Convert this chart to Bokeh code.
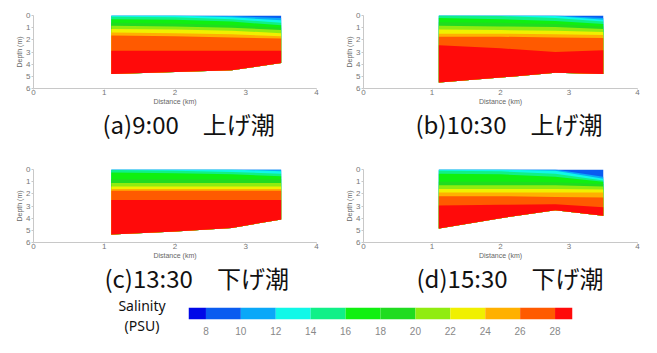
from bokeh.plotting import figure
from bokeh.layouts import column, row
from bokeh.models import Range1d, Title, FixedTicker, Div
from bokeh.embed import file_html
from bokeh.resources import INLINE

# ---------------- data ----------------
stations = [1.1, 2.0, 2.8, 3.5]                    # distance (km)
levels = [10, 12, 14, 16, 18, 20, 22, 24, 26, 28]  # isohaline levels (PSU)

# colour scale (PSU): <8, 8-10, ..., 26-28, >28
cbar_edges = [7, 8, 10, 12, 14, 16, 18, 20, 22, 24, 26, 28, 29]
cbar_colors = ["#0008e8", "#0a5cf0", "#0aa8f8", "#10f8e8", "#10f088", "#10f010",
               "#20dc20", "#90ec10", "#f0f000", "#ffb000", "#ff5a00", "#ff0a0a"]
cbar_ticks = [8, 10, 12, 14, 16, 18, 20, 22, 24, 26, 28]
cbar_title = ["Salinity", "(PSU)"]

titles = ["(a)9:00\u3000上げ潮", "(b)10:30\u3000上げ潮", "(c)13:30\u3000下げ潮", "(d)15:30\u3000下げ潮"]

# bottom depth (m) at stations
bottom_a = [4.8, 4.65, 4.5, 3.9]
bottom_b = [5.5, 5.1, 4.7, 4.8]
bottom_c = [5.35, 5.1, 4.8, 4.1]
bottom_d = [4.85, 4.0, 3.35, 3.8]

# depth (m) of each isohaline (rows = levels 10..28) at stations
iso_a = [[0.0, 0.0, 0.05, 0.2], [0.0, 0.0, 0.15, 0.4], [0.1, 0.15, 0.3, 0.6],
         [0.3, 0.35, 0.5, 0.8], [0.6, 0.65, 0.8, 1.0], [0.85, 0.9, 1.0, 1.2],
         [1.1, 1.15, 1.25, 1.45], [1.4, 1.45, 1.55, 1.7], [1.65, 1.7, 1.8, 1.9],
         [2.9, 2.9, 2.9, 2.9]]
iso_b = [[0.0, 0.0, 0.0, 0.2], [0.0, 0.0, 0.05, 0.35], [0.0, 0.05, 0.2, 0.5],
         [0.2, 0.3, 0.45, 0.7], [0.55, 0.6, 0.7, 0.9], [0.85, 0.9, 0.95, 1.1],
         [1.15, 1.2, 1.25, 1.35], [1.5, 1.5, 1.55, 1.6], [1.75, 1.75, 1.8, 1.85],
         [2.45, 2.7, 3.0, 2.85]]
iso_c = [[0.0, 0.0, 0.0, 0.0], [0.0, 0.0, 0.0, 0.15], [0.05, 0.1, 0.2, 0.35],
         [0.25, 0.3, 0.4, 0.55], [0.8, 0.8, 0.8, 0.8], [1.1, 1.1, 1.1, 1.1],
         [1.4, 1.4, 1.4, 1.4], [1.6, 1.6, 1.6, 1.6], [1.75, 1.75, 1.75, 1.75],
         [2.5, 2.5, 2.5, 2.5]]
iso_d = [[0.0, 0.0, 0.0, 0.6], [0.0, 0.0, 0.1, 0.75], [0.1, 0.15, 0.35, 0.9],
         [0.35, 0.4, 0.6, 1.0], [1.0, 1.0, 1.05, 1.2], [1.3, 1.3, 1.3, 1.4],
         [1.6, 1.6, 1.6, 1.65], [1.9, 1.9, 1.9, 1.9], [2.2, 2.2, 2.25, 2.3],
         [2.95, 2.9, 2.85, 3.1]]

FONT = "Noto Sans CJK JP"


def make_panel(title, bottom, iso, width, height, bl, br, bt, bb, toff):
    p = figure(width=width, height=height, x_range=Range1d(0, 4), y_range=Range1d(6, 0),
               output_backend="svg", toolbar_location=None,
               min_border_left=bl, min_border_right=br, min_border_top=bt, min_border_bottom=bb)
    p.outline_line_color = None
    p.grid.visible = False
    band_colors = cbar_colors[1:]
    tops = [[0.0] * len(stations)] + iso
    for k, top in enumerate(tops):
        y1 = [min(a, b) for a, b in zip(top, bottom)]
        p.varea(x=stations, y1=y1, y2=bottom, fill_color=band_colors[k])
    for ax in (p.xaxis[0], p.yaxis[0]):
        ax.axis_line_color = "#c8c8c8"
        ax.major_tick_line_color = "#c8c8c8"
        ax.major_tick_in = 0
        ax.major_tick_out = 2
        ax.minor_tick_line_color = None
        ax.major_label_text_font_size = "8px"
        ax.major_label_text_color = "#777777"
        ax.axis_label_text_font_size = "7px"
        ax.axis_label_text_color = "#666666"
        ax.axis_label_text_font_style = "normal"
        ax.major_label_standoff = 1
        ax.axis_label_standoff = 0
    p.xaxis.major_label_standoff = 0
    p.xaxis.major_tick_out = 1
    p.xaxis.ticker = FixedTicker(ticks=[0, 1, 2, 3, 4])
    p.yaxis.ticker = FixedTicker(ticks=[0, 1, 2, 3, 4, 5, 6])
    p.xaxis.axis_label = "Distance (km)"
    p.yaxis.axis_label = "Depth (m)"
    p.add_layout(Title(text=title, align="left", offset=toff, standoff=-8,
                       text_font=FONT, text_font_size="24px", text_font_style="normal",
                       text_color="#111111"), "below")
    return p


pa = make_panel(titles[0], bottom_a, iso_a, 330, 150, 33, 14, 15, 62, 69)
pb = make_panel(titles[1], bottom_b, iso_b, 311, 150, 33, 4, 15, 62, 52)
pc = make_panel(titles[2], bottom_c, iso_c, 330, 145, 33, 14, 19, 53, 71)
pd = make_panel(titles[3], bottom_d, iso_d, 311, 145, 33, 4, 19, 53, 53)

# colour-bar title
lab = Div(text="<div style='margin-left:102px;width:80px;text-align:center;"
               "font-family:\"Noto Sans\";font-size:14px;line-height:20px;color:#111111;"
               "padding-top:1px'>" + "<br>".join(cbar_title) + "</div>",
          width=188, height=42, margin=0)

# colour bar
cb = figure(width=453, height=42, x_range=Range1d(cbar_edges[0], cbar_edges[-1]),
            y_range=Range1d(0, 1), output_backend="svg", toolbar_location=None,
            min_border_left=0, min_border_right=69, min_border_top=12, min_border_bottom=12)
cb.outline_line_color = None
cb.grid.visible = False
cb.yaxis.visible = False
cb.quad(left=cbar_edges[:-1], right=cbar_edges[1:], bottom=0, top=1,
        fill_color=cbar_colors, line_color=None)
cb.xaxis.ticker = FixedTicker(ticks=cbar_ticks)
cb.xaxis.axis_line_color = None
cb.xaxis.major_tick_line_color = None
cb.xaxis.minor_tick_line_color = None
cb.xaxis.major_label_text_font_size = "10px"
cb.xaxis.major_label_text_color = "#888888"
cb.xaxis.major_label_standoff = 1

layout = column(row(pa, pb), row(pc, pd), row(lab, cb), spacing=0)
open("out.html", "w").write(file_html(layout, INLINE))
